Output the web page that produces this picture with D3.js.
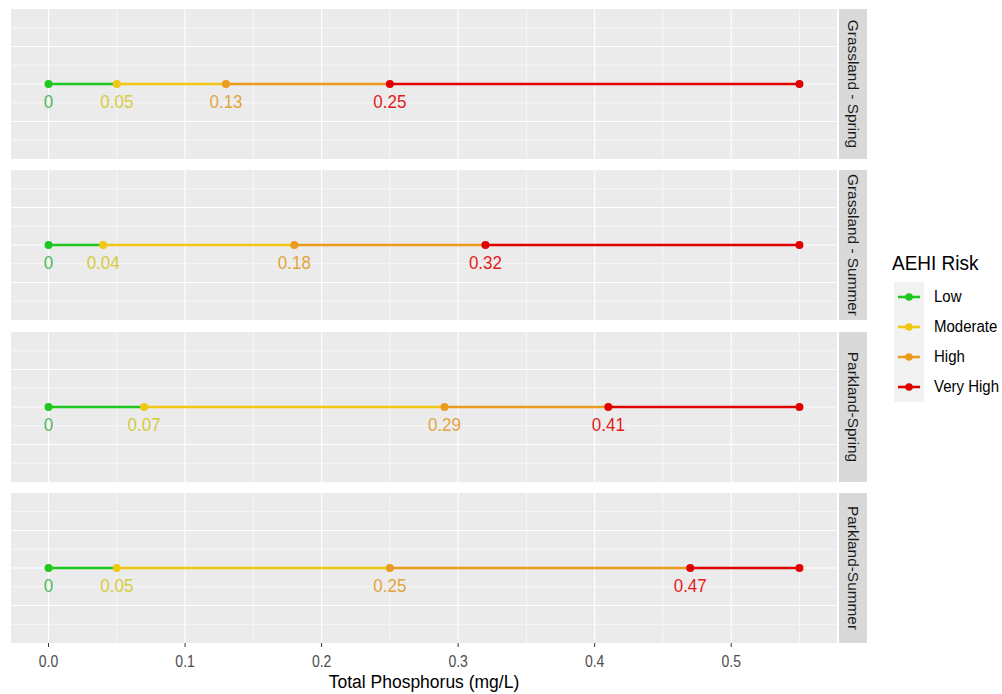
<!DOCTYPE html>
<html>
<head>
<meta charset="utf-8">
<script src="https://cdn.jsdelivr.net/npm/d3@7"></script>
<style>
  body { margin: 0; background: #fff; }
  text { font-family: "Liberation Sans", Arial, sans-serif; }
</style>
</head>
<body>
<svg id="chart" width="1002" height="694"></svg>
<script>
// facets, top to bottom
const facets = ['Grassland - Spring', 'Grassland - Summer', 'Parkland-Spring', 'Parkland-Summer'];
// risk thresholds per facet: Low start, Moderate start, High start, Very High start, end
const lowStart = [0, 0, 0, 0];
const moderateStart = [0.05, 0.04, 0.07, 0.05];
const highStart = [0.13, 0.18, 0.29, 0.25];
const veryHighStart = [0.25, 0.32, 0.41, 0.47];
const rangeEnd = [0.55, 0.55, 0.55, 0.55];

const riskLevels = ['Low', 'Moderate', 'High', 'Very High'];
const riskColors = ['#1ec81e', '#f0c814', '#eb9b1e', '#e00000'];
const labelColors = ['#4cbb5a', '#d6cc3a', '#e3a43c', '#e41a1a'];

const xTicks = [0, 0.1, 0.2, 0.3, 0.4, 0.5];
const xMinor = [0.05, 0.15, 0.25, 0.35, 0.45, 0.55];

const svg = d3.select('#chart');

const panelLeft = 11, panelRight = 837;
const panelTops = [9, 170, 332, 493];
const panelH = 150;

const x = d3.scaleLinear()
  .domain([-0.0275, 0.5775])
  .range([panelLeft, panelRight]);

const breaks = facets.map((f, i) =>
  [lowStart[i], moderateStart[i], highStart[i], veryHighStart[i], rangeEnd[i]]);

facets.forEach((name, i) => {
  const top = panelTops[i];
  const g = svg.append('g').attr('transform', `translate(0,${top})`);
  const y = d3.scaleLinear().domain([0, 8]).range([0, panelH]);

  g.append('rect')
    .attr('x', panelLeft).attr('y', 0)
    .attr('width', panelRight - panelLeft).attr('height', panelH)
    .attr('fill', '#ebebeb');

  // horizontal grid
  d3.range(1, 8).forEach(k => {
    g.append('line')
      .attr('x1', panelLeft).attr('x2', panelRight)
      .attr('y1', y(k)).attr('y2', y(k))
      .attr('stroke', '#fff')
      .attr('stroke-width', k % 2 === 0 ? 1.1 : 0.6);
  });
  // vertical grid
  xMinor.forEach(v => {
    g.append('line')
      .attr('x1', x(v)).attr('x2', x(v))
      .attr('y1', 0).attr('y2', panelH)
      .attr('stroke', '#fff').attr('stroke-width', 0.6);
  });
  xTicks.forEach(v => {
    g.append('line')
      .attr('x1', x(v)).attr('x2', x(v))
      .attr('y1', 0).attr('y2', panelH)
      .attr('stroke', '#fff').attr('stroke-width', 1.1);
  });

  const cy = y(4);
  const b = breaks[i];

  // segments
  for (let s = 0; s < 4; s++) {
    g.append('line')
      .attr('x1', x(b[s])).attr('x2', x(b[s + 1]))
      .attr('y1', cy).attr('y2', cy)
      .attr('stroke', riskColors[s])
      .attr('stroke-width', 2.6);
  }
  // points
  b.forEach((v, s) => {
    g.append('circle')
      .attr('cx', x(v)).attr('cy', cy).attr('r', 4)
      .attr('fill', riskColors[Math.min(s, 3)]);
  });
  // labels
  for (let s = 0; s < 4; s++) {
    g.append('text')
      .attr('transform', `translate(${x(b[s])},${cy + 24}) scale(1,1.12)`)
      .attr('text-anchor', 'middle')
      .attr('font-size', 17)
      .attr('fill', labelColors[s])
      .text(d3.format('~g')(b[s]));
  }

  // strip
  g.append('rect')
    .attr('x', 839).attr('y', 0)
    .attr('width', 28).attr('height', panelH)
    .attr('fill', '#d9d9d9');
  g.append('text')
    .attr('transform', `translate(${853},${panelH / 2}) rotate(90) scale(1.1,1.05)`)
    .attr('text-anchor', 'middle')
    .attr('dy', '0.35em')
    .attr('font-size', 14)
    .attr('fill', '#1a1a1a')
    .text(name);
});

// x axis
const axisY = panelTops[3] + panelH;
const axis = svg.append('g').attr('transform', `translate(0,${axisY})`);
xTicks.forEach(v => {
  axis.append('line')
    .attr('x1', x(v)).attr('x2', x(v))
    .attr('y1', 0).attr('y2', 4)
    .attr('stroke', '#333').attr('stroke-width', 1);
  axis.append('text')
    .attr('transform', `translate(${x(v)},${24}) scale(1,1.12)`)
    .attr('text-anchor', 'middle')
    .attr('font-size', 14)
    .attr('fill', '#4d4d4d')
    .text(d3.format('.1f')(v));
});
svg.append('text')
  .attr('transform', `translate(${(panelLeft + panelRight) / 2},${688}) scale(1,1.1)`)
  .attr('text-anchor', 'middle')
  .attr('font-size', 17.5)
  .attr('fill', '#000')
  .text('Total Phosphorus (mg/L)');

// legend
const legend = svg.append('g').attr('transform', 'translate(892,0)');
legend.append('text')
  .attr('transform', 'translate(0,270) scale(1,1.08)')
  .attr('font-size', 19)
  .attr('fill', '#000')
  .text('AEHI Risk');
riskLevels.forEach((lvl, k) => {
  const ky = 282 + k * 30;
  legend.append('rect')
    .attr('x', 2).attr('y', ky)
    .attr('width', 30).attr('height', 30)
    .attr('fill', '#f2f2f2');
  legend.append('line')
    .attr('x1', 6).attr('x2', 28)
    .attr('y1', ky + 15).attr('y2', ky + 15)
    .attr('stroke', riskColors[k]).attr('stroke-width', 2.6);
  legend.append('circle')
    .attr('cx', 17).attr('cy', ky + 15).attr('r', 3.8)
    .attr('fill', riskColors[k]);
  legend.append('text')
    .attr('transform', `translate(42,${ky + 20}) scale(1,1.08)`)
    .attr('font-size', 15)
    .attr('fill', '#000')
    .text(lvl);
});
</script>
</body>
</html>
